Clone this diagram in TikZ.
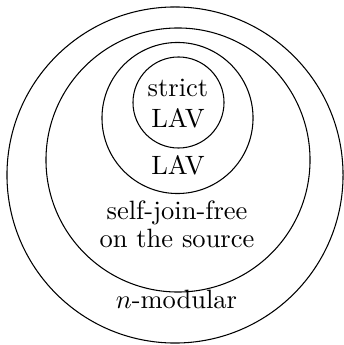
\documentclass[tikz,border=0pt]{standalone}
\begin{document}
\begin{tikzpicture}[
    x=0.013263cm, y=-0.013263cm,
    ring/.style={circle, draw, inner sep=0pt},
    classname/.style={anchor=base, align=center, inner sep=0pt},
]
\useasboundingbox (0,0) rectangle (343,345);

% nested classes
\node[ring, minimum size=4.456cm] (nmod)  at (175,175)   {};
\node[ring, minimum size=3.501cm] (sjf)   at (178,160)   {};
\node[ring, minimum size=2.003cm] (lav)   at (177.5,118) {};
\node[ring, minimum size=1.207cm] (slav)  at (178.5,102.5) {};

\node[classname] (slavtext) at (178,127.3) {strict\\[-0.5pt]LAV};
\node[classname] (lavtext)  at (178,175)   {LAV};
\node[classname] (sjftext)  at (177,248)   {self-join-free\\[-1.4pt]on the source};
\node[classname] (nmodtext) at (176.5,308) {$n$-modular};
\end{tikzpicture}
\end{document}
